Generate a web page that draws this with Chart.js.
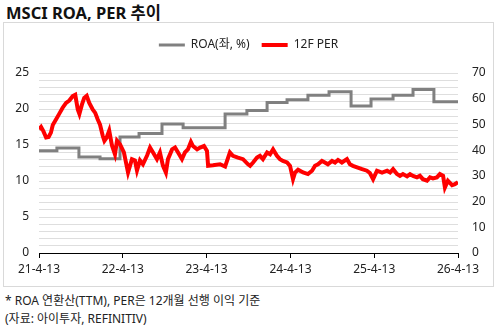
<!DOCTYPE html>
<html lang="ko">
  <head>
    <meta charset="UTF-8" />
    <title>MSCI ROA, PER 추이</title>
    <style>
      body {
        margin: 0;
        width: 499px;
        height: 336px;
        background: #fff;
        font-family: "Noto Sans", "Noto Sans CJK KR", sans-serif;
        position: relative;
        overflow: hidden;
      }
      .title {
        position: absolute;
        left: 6px;
        top: 0px;
        font-size: 16.5px;
        font-weight: bold;
        color: #111;
      }
      .box {
        position: absolute;
        left: 3px;
        top: 22px;
        width: 489px;
        height: 263px;
        border: 1px solid #d9d9d9;
      }
      .note {
        position: absolute;
        left: 5px;
        font-size: 12px;
        color: #222;
      }
    </style>
  </head>
  <body>
    <div class="title">MSCI ROA, PER 추이</div>
    <div class="box">
      <canvas id="myChart" width="489" height="263"></canvas>
    </div>
    <div class="note" style="top: 291px">* ROA 연환산(TTM), PER은 12개월 선행 이익 기준</div>
    <div class="note" style="top: 309px">(자료: 아이투자, REFINITIV)</div>

    <script src="https://cdn.jsdelivr.net/npm/chart.js"></script>
    <script>
      // x 값은 2021-04-13 기준 경과 일수
      const tickDays = [0, 365, 730, 1096, 1461, 1826];
      const tickLabels = ["21-4-13", "22-4-13", "23-4-13", "24-4-13", "25-4-13", "26-4-13"];

      // ROA (좌, %) - 분기별 계단
      const roaDay = [0, 78, 174, 266, 353, 436, 536, 628, 811, 906, 994, 1081, 1172, 1264, 1360, 1447, 1543, 1630, 1721, 1826];
      const roaValue = [14.2, 14.6, 13.35, 13.1, 16.1, 16.6, 17.9, 17.4, 19.3, 19.8, 20.9, 21.3, 21.9, 22.4, 20.4, 21.4, 21.9, 22.7, 21.0, 21.0];

      // 12F PER (우)
      const perDay = [
        0, 9, 19, 31, 42, 52, 60, 74, 88, 103, 118, 132, 147, 158, 169, 176, 187, 197, 208, 219,
        234, 245, 256, 266, 278, 285, 295, 306, 318, 331, 340, 353, 370, 388, 405, 418, 427, 440, 453, 471,
        484, 497, 514, 527, 540, 553, 562, 580, 593, 606, 623, 636, 649, 662, 671, 689, 702, 719, 732, 737,
        758, 789, 811, 832, 845, 867, 889, 911, 920, 933, 950, 963, 976, 994, 1007, 1020, 1037, 1050, 1063, 1081,
        1094, 1107, 1116, 1129, 1151, 1172, 1190, 1203, 1216, 1233, 1246, 1259, 1277, 1290, 1303, 1320, 1342, 1355, 1368, 1386,
        1408, 1429, 1442, 1456, 1473, 1495, 1517, 1530, 1543, 1560, 1573, 1586, 1604, 1617, 1630, 1647, 1660, 1673, 1691, 1704,
        1717, 1734, 1747, 1761, 1769, 1782, 1800, 1813, 1826
      ];
      const perValue = [
        48.1, 49.0, 47.4, 44.9, 45.1, 46.8, 49.8, 51.9, 54.1, 56.5, 58.4, 59.3, 61.0, 61.5, 55.8, 54.1, 57.7, 60.3, 61.1, 58.4,
        55.8, 54.5, 51.9, 49.9, 45.5, 43.6, 44.9, 47.6, 41.8, 38.4, 43.7, 42.3, 39.1, 31.3, 36.5, 36.0, 32.1, 36.0, 34.5, 37.9,
        41.0, 39.1, 36.5, 39.1, 34.0, 31.3, 36.5, 40.3, 41.0, 39.1, 36.5, 39.1, 40.3, 43.2, 41.6, 40.3, 41.0, 41.6, 39.7, 33.9,
        34.1, 34.5, 33.6, 39.1, 37.8, 37.1, 36.5, 34.5, 33.9, 35.2, 37.1, 37.8, 36.5, 39.1, 38.4, 40.3, 37.8, 36.5, 35.8, 35.2,
        33.9, 28.7, 31.3, 32.4, 31.3, 30.7, 32.0, 33.9, 34.5, 35.8, 35.2, 34.5, 35.8, 35.2, 36.2, 35.2, 36.5, 34.5, 33.9, 33.3,
        32.6, 32.0, 31.1, 28.7, 32.0, 31.3, 32.0, 31.3, 32.6, 30.7, 30.0, 30.7, 29.8, 30.7, 30.0, 29.4, 30.0, 28.7, 28.1, 29.4,
        29.0, 29.4, 30.7, 30.0, 25.5, 28.1, 26.4, 26.8, 27.5
      ];

      const font = { family: '"Noto Sans", "Noto Sans CJK KR", sans-serif', size: 12 };

      // 범례 아래 여백
      const legendGap = {
        id: "legendGap",
        beforeInit(chart) {
          const fit = chart.legend.fit;
          chart.legend.fit = function () {
            fit.bind(chart.legend)();
            this.height += 12;
          };
        },
      };

      const config = {
        type: "line",
        data: {
          datasets: [
            {
              label: "ROA(좌, %)",
              data: roaDay.map((d, i) => ({ x: d, y: roaValue[i] })),
              yAxisID: "y",
              borderColor: "#808080",
              backgroundColor: "#808080",
              borderWidth: 3,
              stepped: true,
              pointRadius: 0,
              order: 2,
            },
            {
              label: "12F PER",
              data: perDay.map((d, i) => ({ x: d, y: perValue[i] })),
              yAxisID: "y1",
              borderColor: "#ff0000",
              backgroundColor: "#ff0000",
              borderWidth: 4,
              tension: 0,
              pointRadius: 0,
              order: 1,
            },
          ],
        },
        plugins: [legendGap],
        options: {
          responsive: false,
          animation: false,
          layout: { padding: { top: 4, left: 0, right: 0, bottom: 0 } },
          plugins: {
            tooltip: { enabled: false },
            legend: {
              position: "top",
              labels: {
                usePointStyle: true,
                pointStyle: "line",
                pointStyleWidth: 26,
                boxHeight: 12,
                padding: 12,
                color: "#222",
                font: font,
                sort: (a, b) => a.datasetIndex - b.datasetIndex,
              },
            },
          },
          scales: {
            x: {
              type: "linear",
              min: 0,
              max: 1826,
              afterBuildTicks: (scale) => {
                scale.ticks = tickDays.map((v) => ({ value: v }));
              },
              afterFit: (scale) => {
                scale.height = 33;
              },
              ticks: {
                autoSkip: false,
                maxRotation: 0,
                padding: 4,
                color: "#222",
                font: font,
                callback: (value, index) => tickLabels[index],
              },
              grid: {
                drawOnChartArea: false,
                drawTicks: true,
                tickLength: 5,
                color: "#000",
              },
              border: { display: true, color: "#000", width: 1 },
            },
            y: {
              position: "left",
              min: 0,
              max: 25,
              afterFit: (scale) => {
                scale.width = 35;
              },
              ticks: {
                stepSize: 1,
                autoSkip: false,
                padding: 10,
                color: "#222",
                font: font,
                callback: (value) => (value % 5 === 0 ? value : ""),
              },
              grid: { color: "#dedede", drawTicks: false },
              border: { display: false },
            },
            y1: {
              position: "right",
              min: 0,
              max: 70,
              afterFit: (scale) => {
                scale.width = 35;
              },
              ticks: {
                stepSize: 10,
                padding: 14,
                color: "#222",
                font: font,
              },
              grid: { drawOnChartArea: false, drawTicks: false },
              border: { display: false },
            },
          },
        },
      };

      new Chart(document.getElementById("myChart"), config);
    </script>
  </body>
</html>
